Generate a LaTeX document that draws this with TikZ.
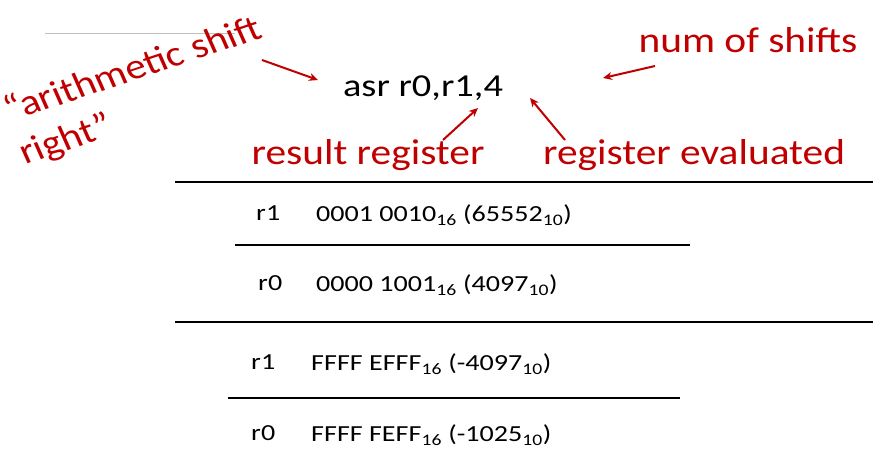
\documentclass[tikz,border=0pt]{standalone}
\usepackage{fontspec}
\setmainfont{Carlito}
\definecolor{myred}{RGB}{192,0,0}
\tikzset{lbl/.style={text=myred,font=\fontsize{36}{38}\selectfont,inner sep=0,xscale=1.15},
 arr/.style={myred,line width=2pt,-{Stealth[length=9pt,width=8pt]}},
 rule/.style={line width=1.6pt},
 row/.style={anchor=west,font=\fontsize{23}{25}\selectfont,inner sep=0,xscale=1.22}}
\usetikzlibrary{arrows.meta}
\begin{document}
\begin{tikzpicture}[x=1pt,y=-1pt]
\useasboundingbox (0,0) rectangle (884,461);
\draw[gray!50,line width=0.8pt] (45,33) -- (235,33);
\node[lbl,rotate=21,anchor=base west] (a1) at (10,122) {“arithmetic shift};
\node[lbl,rotate=21,anchor=base west] (a2) at (25,165) {right”};
\node[font=\fontsize{32}{34}\selectfont,inner sep=0,xscale=1.2] (cmd) at (423,88) {asr r0,r1,4};
\node[lbl] (ns) at (748,40) {num of shifts};
\node[lbl] (rr) at (368,155) {result register};
\node[lbl] (re) at (694,155) {register evaluated};
\coordinate (s1) at (262,60); \coordinate (t1) at (318,80);
\draw[arr] (s1) -- (t1);
\coordinate (s2) at (655,66); \coordinate (t2) at (603,78);
\draw[arr] (s2) -- (t2);
\coordinate (s3) at (443,140); \coordinate (t3) at (478,108);
\draw[arr] (s3) -- (t3);
\coordinate (s4) at (565,140); \coordinate (t4) at (530,98);
\draw[arr] (s4) -- (t4);
\draw[rule] (175,182) -- (873,182);
\draw[rule] (235,245) -- (690,245);
\draw[rule] (175,322) -- (873,322);
\draw[rule] (228,398) -- (680,398);
\node[row] (l1) at (256,213) {r1};
\node[row] (v1) at (316,215) {0001 0010\textsubscript{16} (65552\textsubscript{10})};
\node[row] (l2) at (258,283) {r0};
\node[row] (v2) at (316,285) {0000 1001\textsubscript{16} (4097\textsubscript{10})};
\node[row] (l3) at (251,362) {r1};
\node[row] (v3) at (311,364) {FFFF EFFF\textsubscript{16} (-4097\textsubscript{10})};
\node[row] (l4) at (251,433) {r0};
\node[row] (v4) at (311,435) {FFFF FEFF\textsubscript{16} (-1025\textsubscript{10})};
\end{tikzpicture}
\end{document}
